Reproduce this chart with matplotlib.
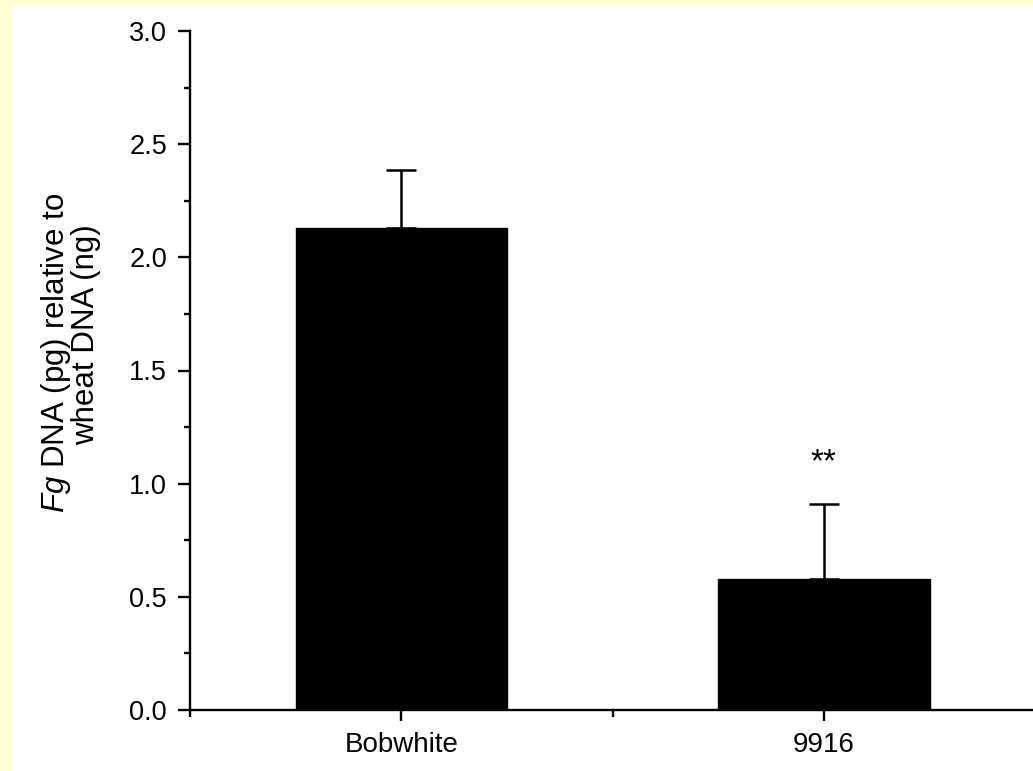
import matplotlib
matplotlib.use("Agg")
import matplotlib.pyplot as plt
from matplotlib.patches import Rectangle
from matplotlib.ticker import MultipleLocator, FixedLocator

plt.rcParams['font.family'] = ['Liberation Sans', 'DejaVu Sans']
plt.rcParams['mathtext.fontset'] = 'custom'
plt.rcParams['mathtext.rm'] = 'Liberation Sans'
plt.rcParams['mathtext.it'] = 'Liberation Sans:italic'

# Data
categories = ['Bobwhite', '9916']
values = [2.13, 0.579]
errors = [0.256, 0.331]
significance = ['', '**']
y_ticks = [0.0, 0.5, 1.0, 1.5, 2.0, 2.5, 3.0]

W, H = 1033, 771
fig = plt.figure(figsize=(W / 100, H / 100), dpi=100)
fig.patch.set_facecolor('#FFFFD2')
fig.patches.append(Rectangle((12 / W, 0), 1 - 12 / W, 1 - 5 / H,
                             transform=fig.transFigure, facecolor='white',
                             edgecolor='none', zorder=-10))

ax = fig.add_axes([190 / W, 1 - 710 / H, 1 - 190 / W, (710 - 31) / H])
ax.set_zorder(5)
ax.set_facecolor('white')

xpos = [1, 2]
ax.bar(xpos, values, width=0.5, color='black', edgecolor='black', zorder=2)
ax.errorbar(xpos, values, yerr=[[0, 0], errors], fmt='none', ecolor='black',
            elinewidth=1.8, capsize=10.8, capthick=1.8, zorder=3)

for x, v, e, s in zip(xpos, values, errors, significance):
    if s:
        ax.text(x, 1.055, s, ha='center', va='baseline', fontsize=24)

ax.set_xlim(0.5, 0.5 + (W - 190) / 422.6)
ax.set_ylim(0, 3.0)
ax.set_xticks(xpos)
ax.set_xticklabels(categories)
ax.xaxis.set_minor_locator(FixedLocator([0.5, 1.5, 2.5]))
ax.set_yticks(y_ticks)
ax.set_yticklabels([f'{t:.1f}' for t in y_ticks])
ax.yaxis.set_minor_locator(MultipleLocator(0.25))

for side in ['top', 'right']:
    ax.spines[side].set_visible(False)
for side in ['left', 'bottom']:
    ax.spines[side].set_linewidth(1.7)

ax.tick_params(axis='y', which='major', length=8.6, width=1.7, labelsize=19.5, pad=8)
ax.tick_params(axis='y', which='minor', length=4.3, width=1.7)
ax.tick_params(axis='x', which='major', length=8, width=1.7, labelsize=20, pad=8)
ax.tick_params(axis='x', which='minor', length=5, width=1.7)

# Y-axis label (two lines)
fig.text(64 / W, 1 - 353 / H, r'$\mathit{Fg}$ DNA (pg) relative to', rotation=90,
         rotation_mode='anchor', ha='center', va='baseline', fontsize=22.5)
fig.text(94 / W, 1 - 335 / H, 'wheat DNA (ng)', rotation=90,
         rotation_mode='anchor', ha='center', va='baseline', fontsize=22.5)

fig.savefig('out.png', dpi=100, facecolor=fig.get_facecolor())
